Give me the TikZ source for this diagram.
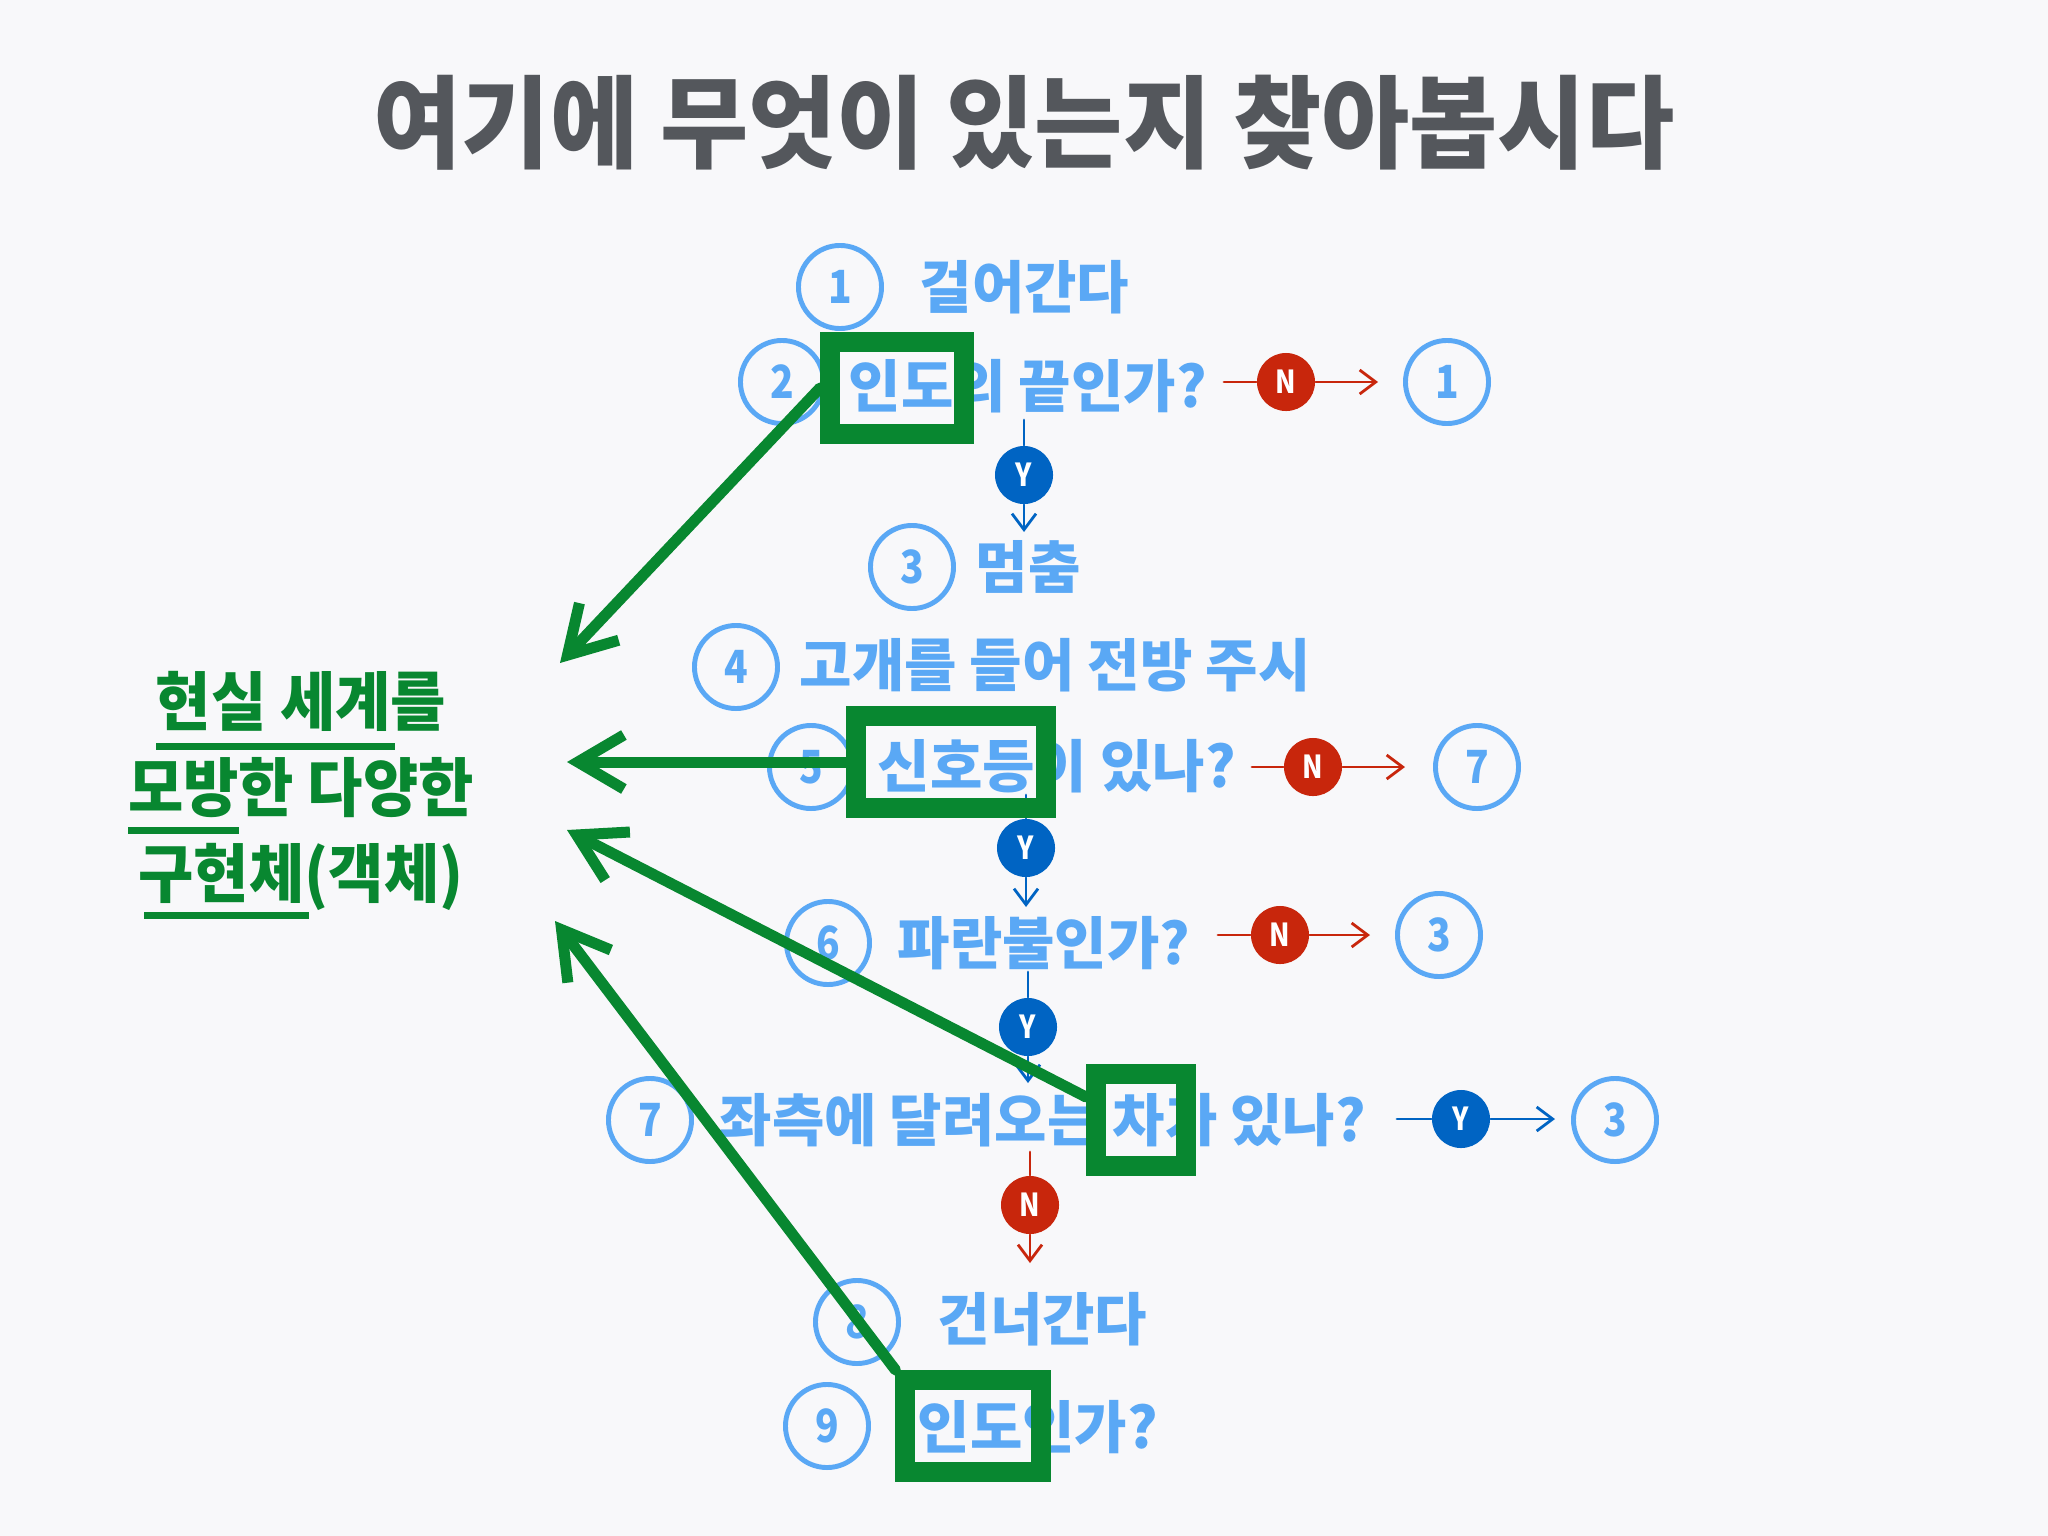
\documentclass[tikz,border=0pt]{standalone}
\usepackage{fontspec}
\usepackage{tikz}
\usetikzlibrary{arrows.meta}

\newfontfamily\titlefont[FakeStretch=0.95]{Noto Sans CJK KR}
\newfontfamily\stepfont[FakeStretch=1.0]{Noto Sans CJK KR}
\newfontfamily\objfont[FakeStretch=0.94]{Noto Sans CJK KR}
\newfontfamily\markfont[FakeStretch=0.85]{Noto Sans CJK KR}

\definecolor{bgc}{RGB}{248,248,250}
\definecolor{titlegray}{RGB}{84,87,92}
\definecolor{lblue}{RGB}{90,168,245}
\definecolor{dblue}{RGB}{0,100,195}
\definecolor{nred}{RGB}{200,38,12}
\definecolor{ogreen}{RGB}{8,135,48}

\tikzset{
  numc/.style={circle, draw=lblue, line width=1.4pt, minimum size=0.83cm, inner sep=0pt,
    text=lblue, font=\markfont\bfseries\fontsize{13pt}{13pt}\selectfont},
  steptext/.style={anchor=west, inner sep=0pt, text=lblue,
    font=\stepfont\bfseries\fontsize{16.2pt}{18pt}\selectfont},
  ymark/.style={circle, fill=dblue, minimum size=0.58cm, inner sep=0pt, text=white,
    font=\markfont\bfseries\fontsize{9pt}{9pt}\selectfont},
  nmark/.style={ymark, fill=nred},
  smallarr/.style={-{Straight Barb[length=1.6mm,width=2.4mm]}},
  yline/.style={dblue, line width=0.8pt},
  nline/.style={nred, line width=0.8pt},
  hlbox/.style={draw=ogreen, line width=0.2cm, inner sep=0pt, minimum height=0.92cm},
  bigarr/.style={ogreen, line width=0.11cm, -{Straight Barb[length=4.6mm,width=5.4mm]}}
}

\begin{document}
\begin{tikzpicture}[x=0.01cm, y=-0.01cm, line cap=round]
  \useasboundingbox (0,0) rectangle (2048,1536);
  \fill[bgc] (0,0) rectangle (2048,1536);

  % ---------------- title ----------------
  \node[text=titlegray, font=\titlefont\bfseries\fontsize{28.7pt}{30pt}\selectfont] (title)
    at (1024,123) {여기에 무엇이 있는지 찾아봅시다};

  % ---------------- steps ----------------
  \foreach \n/\x/\y in {1/840/287,2/782/382,3/912/567,4/736/667,5/811/767,
                        6/828/943,7/650/1120,8/857/1322,9/827/1426}
    \node[numc] (c\n) at (\x,\y) {\n};
  \node[steptext] (t1) at (919,287)  {걸어간다};
  \node[steptext] (t2) at (848,386)  {인도의 끝인가?};
  \node[steptext] (t3) at (975,567)  {멈춤};
  \node[steptext] (t4) at (799,665)  {고개를 들어 전방 주시};
  \node[steptext] (t5) at (877,766)  {신호등이 있나?};
  \node[steptext] (t6) at (897,943)  {파란불인가?};
  \node[steptext] (t7) at (719,1120) {좌측에 달려오는 차가 있나?};
  \node[steptext] (t8) at (937,1319) {건너간다};
  \node[steptext] (t9) at (917,1427) {인도인가?};

  % jump targets
  \foreach \n/\x/\y/\d in {1/1447/382/1,2/1477/767/7,3/1439/935/3,4/1615/1120/3}
    \node[numc] (g\n) at (\x,\y) {\d};

  % ---------------- Y / N branches ----------------
  \foreach \n/\x/\y/\ax/\ay/\bx/\by in {1/1286/382/1224/382/1378/382,
      2/1313/767/1252/767/1405/767, 3/1280/935/1218/935/1370/935,
      4/1030/1205/1030/1152/1030/1263}{
    \node[nmark] (nm\n) at (\x,\y) {N};
    \coordinate (na\n) at (\ax,\ay);
    \coordinate (nb\n) at (\bx,\by);
    \draw[nline] (na\n) -- (nm\n);
    \draw[nline, smallarr] (nm\n) -- (nb\n);
  }
  \foreach \n/\x/\y/\ax/\ay/\bx/\by in {1/1024/475/1024/420/1024/532,
      2/1026/848/1026/795/1026/907, 3/1028/1027/1028/972/1028/1083,
      4/1461/1119/1397/1119/1555/1119}{
    \node[ymark] (ym\n) at (\x,\y) {Y};
    \coordinate (ya\n) at (\ax,\ay);
    \coordinate (yb\n) at (\bx,\by);
    \draw[yline] (ya\n) -- (ym\n);
    \draw[yline, smallarr] (ym\n) -- (yb\n);
  }

  % ---------------- objects ----------------
  \node[text=ogreen, align=center, font=\objfont\bfseries\fontsize{18.2pt}{24.5pt}\selectfont]
    (obj) at (301,791) {현실 세계를\\모방한 다양한\\구현체(객체)};
  \draw[ogreen, line width=0.07cm, line cap=butt] (156,746) -- (395,746);
  \draw[ogreen, line width=0.07cm, line cap=butt] (128,830) -- (239,830);
  \draw[ogreen, line width=0.07cm, line cap=butt] (144,915) -- (309,915);

  \node[hlbox, minimum width=1.34cm] (hl1) at (897,388)  {};
  \node[hlbox, minimum width=1.90cm] (hl2) at (951,762)  {};
  \node[hlbox, minimum width=0.90cm] (hl3) at (1141,1120) {};
  \node[hlbox, minimum width=1.35cm] (hl4) at (973,1426) {};

  \coordinate (tip1) at (560,663);
  \coordinate (tip2) at (567,762);
  \coordinate (tip3) at (567,830);
  \coordinate (tip4) at (555,921);
  \draw[bigarr] (hl1.west) -- (tip1);
  \draw[bigarr] (hl2.west) -- (tip2);
  \draw[bigarr] ([yshift=2.3mm]hl3.west) -- (tip3);
  \draw[bigarr] (hl4.north west) -- (tip4);
\end{tikzpicture}
\end{document}
